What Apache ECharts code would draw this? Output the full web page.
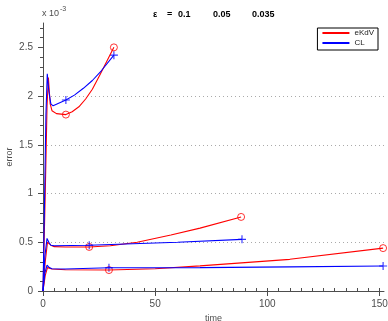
<!DOCTYPE html>
<html>
<head>
<meta charset="utf-8">
<script src="https://cdn.jsdelivr.net/npm/echarts@6/dist/echarts.min.js"></script>
<style>
  html, body { margin: 0; padding: 0; background: #fff; }
  #chart { width: 388px; height: 321px; }
</style>
</head>
<body>
<div id="chart"></div>
<script>
// epsilon values shown in the title
const epsLabels = ['0.1', '0.05', '0.035'];

// eKdV error curves (time, error x 1e-3), one per epsilon
const ekdvEps1 = [[0, 0], [1, 1.0], [1.8, 1.9], [2.4, 2.19], [3.2, 1.92], [4, 1.85], [6, 1.82], [10.2, 1.81],
  [13, 1.84], [16, 1.89], [19, 1.97], [22, 2.07], [25.4, 2.22], [28.5, 2.36], [31.6, 2.5]];
const ekdvEps2 = [[0, 0], [1, 0.3], [2, 0.5], [2.6, 0.52], [3.5, 0.47], [5, 0.455], [10, 0.452], [20.6, 0.452],
  [30, 0.465], [42, 0.5], [57, 0.575], [70, 0.645], [88.3, 0.76]];
const ekdvEps3 = [[0, 0], [1, 0.16], [2, 0.24], [2.8, 0.25], [4, 0.226], [10, 0.218], [29.4, 0.215],
  [50, 0.228], [70, 0.258], [110, 0.325], [151.6, 0.44]];

// CL error curves
const clEps1 = [[0, 0], [0.6, 0.8], [1.3, 1.8], [1.9, 2.23], [2.6, 2.05], [3.5, 1.92], [4.5, 1.9], [10.2, 1.96],
  [14, 2.01], [18, 2.08], [22, 2.16], [26, 2.26], [31.6, 2.42]];
const clEps2 = [[0, 0], [0.8, 0.35], [1.8, 0.54], [2.6, 0.5], [3.5, 0.47], [5, 0.465], [20.6, 0.47],
  [40, 0.485], [60, 0.5], [88.7, 0.53]];
const clEps3 = [[0, 0], [0.8, 0.18], [1.8, 0.265], [2.8, 0.24], [4, 0.228], [10, 0.226], [29.4, 0.238],
  [70, 0.24], [110, 0.248], [151.6, 0.256]];

// marker points
const ekdvMarks = [[10.2, 1.81], [31.6, 2.5], [20.6, 0.452], [88.3, 0.76], [29.4, 0.215], [151.6, 0.44]];
const clMarks = [[10.2, 1.96], [31.6, 2.42], [20.6, 0.47], [88.7, 0.53], [29.4, 0.238], [151.6, 0.256]];

// axis ticks
const xTicks = [0, 50, 100, 150];
const yTicks = [0, 0.5, 1, 1.5, 2, 2.5];
const xMinorTicks = [];
for (let v = 0; v <= 150; v += 5) xMinorTicks.push(v);
const yMinorTicks = [];
for (let i = 0; i <= 27; i++) yMinorTicks.push(+(i * 0.1).toFixed(1));

const RED = '#ff0000';
const BLUE = '#0000ff';
const AXIS = '#4d4d4d';
const FONT = 'Liberation Sans, Arial, sans-serif';
const PLUS = 'path://M0,4.3H10V5.7H0Z M4.3,0H5.7V10H4.3Z';

const chart = echarts.init(document.getElementById('chart'), null, { renderer: 'canvas' });

function curve(name, data, color) {
  return {
    name, type: 'line', data, symbol: 'none', silent: true,
    lineStyle: { color, width: 1.1 }, itemStyle: { color },
    xAxisIndex: 0, yAxisIndex: 0
  };
}

const option = {
  animation: false,
  textStyle: { fontFamily: FONT },
  title: {
    left: 148, top: 5,
    text: '{a|ε}{b|=}{c|' + epsLabels[0] + '}{d|' + epsLabels[1] + '}{e|' + epsLabels[2] + '}',
    textStyle: {
      fontSize: 9, fontWeight: 'bold', color: '#000',
      rich: {
        a: { width: 14, fontSize: 9, fontWeight: 'bold', color: '#000' },
        b: { width: 11, fontSize: 9, fontWeight: 'bold', color: '#000' },
        c: { width: 35, fontSize: 9, fontWeight: 'bold', color: '#000' },
        d: { width: 39, fontSize: 9, fontWeight: 'bold', color: '#000' },
        e: { fontSize: 9, fontWeight: 'bold', color: '#000' }
      }
    }
  },
  graphic: [{
    type: 'text', left: 42, top: 6,
    style: {
      text: '{a|x 10}{b|-3}',
      rich: {
        a: { fontSize: 9, fill: AXIS, fontFamily: FONT, padding: [5, 0, 0, 0] },
        b: { fontSize: 7, fill: AXIS, fontFamily: FONT, padding: [0, 0, 4, 1] }
      }
    }
  }],
  legend: {
    data: ['eKdV', 'CL'],
    orient: 'vertical',
    right: 10, top: 28,
    icon: 'rect',
    itemWidth: 27, itemHeight: 2, itemGap: 0,
    padding: [0, 4, 2, 5],
    borderColor: '#000', borderWidth: 1, backgroundColor: '#fff',
    textStyle: { fontSize: 8, color: '#222', lineHeight: 10, fontFamily: FONT }
  },
  grid: { left: 43, right: 4, top: 23, bottom: 30, containLabel: false, outerBoundsMode: 'none' },
  xAxis: [{
    type: 'value', min: 0, max: 152, interval: 50,
    name: 'time', nameLocation: 'middle', nameGap: 23, nameMoveOverlap: false,
    nameTextStyle: { fontSize: 9, color: AXIS },
    axisLine: { lineStyle: { color: AXIS, width: 1 } },
    axisTick: { customValues: xTicks, length: 5, lineStyle: { color: AXIS } },
    axisLabel: { customValues: xTicks, fontSize: 10, color: AXIS, margin: 8 },
    splitLine: { show: false }
  }, {
    type: 'value', min: 0, max: 152, position: 'bottom',
    axisLine: { show: false },
    axisTick: { customValues: xMinorTicks, inside: true, length: 3, lineStyle: { color: AXIS } },
    axisLabel: { show: false },
    splitLine: { show: false }
  }],
  yAxis: [{
    type: 'value', min: 0, max: 2.75, interval: 0.5,
    name: 'error', nameLocation: 'middle', nameGap: 29, nameRotate: 90, nameMoveOverlap: false,
    nameTextStyle: { fontSize: 9, color: AXIS },
    axisLine: { show: true, lineStyle: { color: AXIS, width: 1 } },
    axisTick: { show: true, customValues: yTicks, length: 5, lineStyle: { color: AXIS } },
    axisLabel: { customValues: yTicks, fontSize: 10, color: AXIS, margin: 10 },
    splitLine: { show: true, showMinLine: false, showMaxLine: false,
      lineStyle: { color: '#aaa', type: [1, 3], width: 1 } }
  }, {
    type: 'value', min: 0, max: 2.75, position: 'left',
    axisLine: { show: false },
    axisTick: { show: true, customValues: yMinorTicks, length: 3, lineStyle: { color: AXIS } },
    axisLabel: { show: false },
    splitLine: { show: false }
  }],
  series: [
    curve('eKdV', ekdvEps1, RED),
    curve('eKdV', ekdvEps2, RED),
    curve('eKdV', ekdvEps3, RED),
    curve('CL', clEps1, BLUE),
    curve('CL', clEps2, BLUE),
    curve('CL', clEps3, BLUE),
    {
      name: 'eKdV', type: 'scatter', data: ekdvMarks, symbol: 'circle', symbolSize: 7,
      itemStyle: { color: 'rgba(255,255,255,0)', borderColor: RED, borderWidth: 1 }, silent: true
    },
    {
      name: 'CL', type: 'scatter', data: clMarks, symbol: PLUS, symbolSize: 8,
      itemStyle: { color: BLUE }, silent: true
    }
  ]
};

chart.setOption(option);
window.addEventListener('resize', () => chart.resize());
</script>
</body>
</html>
